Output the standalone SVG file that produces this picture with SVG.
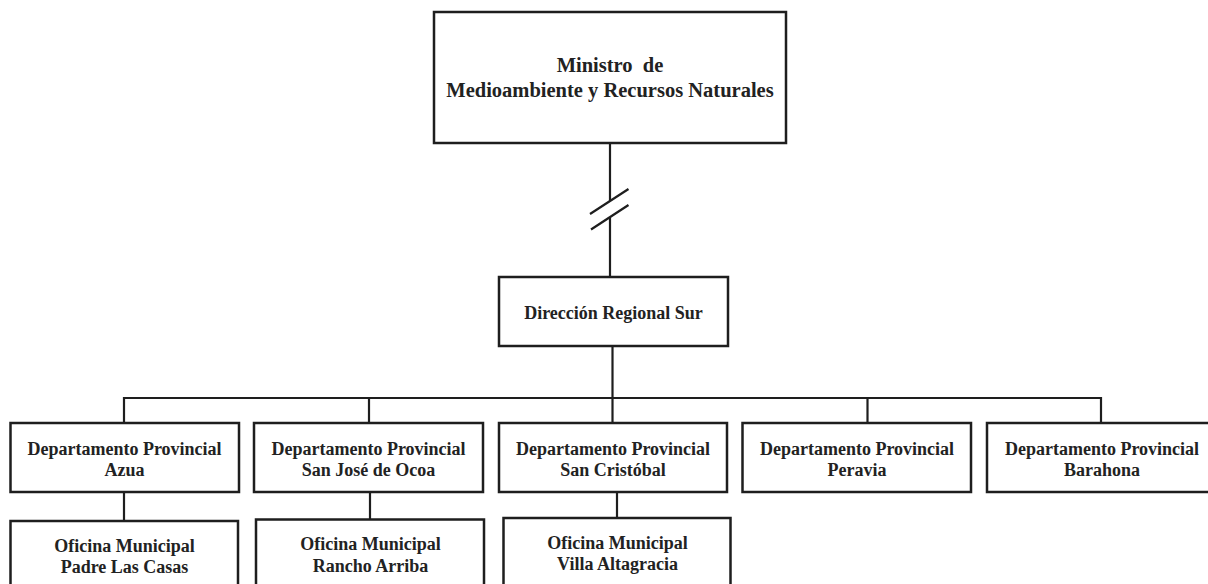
<svg xmlns="http://www.w3.org/2000/svg" width="1208" height="584" viewBox="0 0 1208 584">
<style>
.box{fill:#fff;stroke:#1e1e1e;stroke-width:2.5}
.ln{fill:none;stroke:#1e1e1e;stroke-width:2.2}
text{font-family:"Liberation Serif","Times New Roman",serif;font-weight:bold;fill:#222;text-anchor:middle;font-size:18px}
.big{font-size:20.5px}
</style>
<rect width="1208" height="584" fill="#fff"/>
<g id="connectors">
<path class="ln" d="M610 143V201M610 217V277"/>
<path class="ln" d="M590 214L628.5 189M591 229.5L628.5 205"/>
<path class="ln" d="M612.5 346V423"/>
<path class="ln" d="M124 423V398H1101V423"/>
<path class="ln" d="M369 398V423M867.5 398V423"/>
<path class="ln" d="M124 492V521M370 492V519.5M617 492V518"/>
</g>
<g id="ministro">
<rect class="box" x="434" y="12" width="352" height="131"/>
<text class="big" x="610" y="72" xml:space="preserve">Ministro  de</text>
<text class="big" x="610" y="97">Medioambiente y Recursos Naturales</text>
</g>
<g id="direccion">
<rect class="box" x="499" y="277" width="229" height="69"/>
<text x="613.5" y="319">Dirección Regional Sur</text>
</g>
<g id="dp-azua">
<rect class="box" x="10.5" y="423" width="228.5" height="69"/>
<text x="124.5" y="454.5">Departamento Provincial</text>
<text x="124.5" y="476">Azua</text>
</g>
<g id="dp-ocoa">
<rect class="box" x="254" y="423" width="229" height="69"/>
<text x="368.5" y="454.5">Departamento Provincial</text>
<text x="368.5" y="476">San José de Ocoa</text>
</g>
<g id="dp-cristobal">
<rect class="box" x="499" y="423" width="228" height="69"/>
<text x="613" y="454.5">Departamento Provincial</text>
<text x="613" y="476">San Cristóbal</text>
</g>
<g id="dp-peravia">
<rect class="box" x="742.5" y="423" width="228.5" height="69"/>
<text x="857" y="454.5">Departamento Provincial</text>
<text x="857" y="476">Peravia</text>
</g>
<g id="dp-barahona">
<rect class="box" x="987" y="423" width="232" height="69"/>
<text x="1102" y="454.5">Departamento Provincial</text>
<text x="1102" y="476">Barahona</text>
</g>
<g id="om-padre">
<rect class="box" x="10.5" y="521" width="227.5" height="80"/>
<text x="124.5" y="551.5">Oficina Municipal</text>
<text x="124.5" y="573">Padre Las Casas</text>
</g>
<g id="om-rancho">
<rect class="box" x="256" y="519.5" width="228" height="80"/>
<text x="370.5" y="550">Oficina Municipal</text>
<text x="370.5" y="571.5">Rancho Arriba</text>
</g>
<g id="om-villa">
<rect class="box" x="503.5" y="518" width="227" height="80"/>
<text x="617.5" y="548.5">Oficina Municipal</text>
<text x="617.5" y="570">Villa Altagracia</text>
</g>
</svg>
